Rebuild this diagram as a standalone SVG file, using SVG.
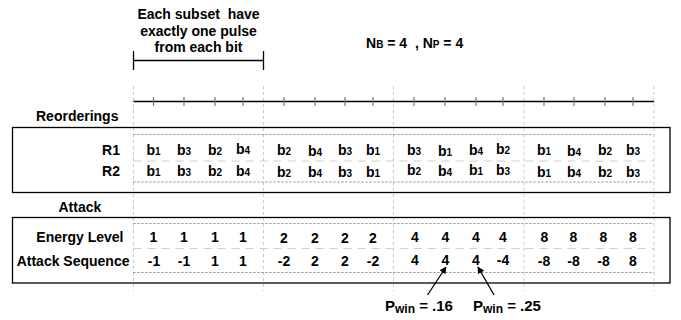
<svg xmlns="http://www.w3.org/2000/svg" width="681" height="320" viewBox="0 0 681 320">
<style>
text{font-family:"Liberation Sans",Arial,Helvetica,sans-serif;font-weight:bold;fill:#000;font-size:14px}
.m{text-anchor:middle}
.e{text-anchor:end}
.sub{font-size:10px}
.grid{stroke:#c8c8c8;stroke-width:1;stroke-dasharray:3 3;fill:none}
.dot{stroke:#888;stroke-width:1;stroke-dasharray:2 2;fill:none}
.dash{stroke:#cfcfcf;stroke-width:1;stroke-dasharray:8 6;fill:none}
.box{fill:none;stroke:#000;stroke-width:1.3}
.tick{stroke:#777;stroke-width:1.2}
.ln{stroke:#000;stroke-width:1.3;fill:none}
.pw{font-size:15px}
</style>
<defs>
<marker id="ah" viewBox="0 0 10 10" refX="9" refY="5" markerWidth="7" markerHeight="7" markerUnits="userSpaceOnUse" orient="auto">
<path d="M0,0 L10,5 L0,10 z" fill="#000"/>
</marker>
</defs>
<rect width="681" height="320" fill="#fff"/>

<g id="gridlines">
<line class="grid" x1="133.5" y1="86" x2="133.5" y2="291"/>
<line class="grid" x1="263.5" y1="86" x2="263.5" y2="291"/>
<line class="grid" x1="393.5" y1="86" x2="393.5" y2="291"/>
<line class="grid" x1="524" y1="86" x2="524" y2="291"/>
<line class="grid" x1="654" y1="86" x2="654" y2="291"/>
</g>

<g id="subset-note">
<text class="m" x="198.5" y="19" xml:space="preserve">Each subset  have</text>
<text class="m" x="198.5" y="35.5">exactly one pulse</text>
<text class="m" x="198.5" y="52">from each bit</text>
<line class="ln" x1="133.5" y1="51" x2="133.5" y2="70"/>
<line class="ln" x1="263.5" y1="51" x2="263.5" y2="70"/>
<line class="ln" x1="133.5" y1="60.5" x2="263.5" y2="60.5"/>
</g>

<g id="params">
<text x="366" y="48" xml:space="preserve">N<tspan class="sub">B</tspan> = 4  , N<tspan class="sub">P</tspan> = 4</text>
</g>

<g id="timeline">
<line class="ln" x1="133.5" y1="101.5" x2="654" y2="101.5"/>
<g class="tick">
<line x1="153.5" y1="97" x2="153.5" y2="106"/>
<line x1="184" y1="97" x2="184" y2="106"/>
<line x1="215" y1="97" x2="215" y2="106"/>
<line x1="243" y1="97" x2="243" y2="106"/>
<line x1="284" y1="97" x2="284" y2="106"/>
<line x1="315" y1="97" x2="315" y2="106"/>
<line x1="345" y1="97" x2="345" y2="106"/>
<line x1="373" y1="97" x2="373" y2="106"/>
<line x1="414" y1="97" x2="414" y2="106"/>
<line x1="445" y1="97" x2="445" y2="106"/>
<line x1="476" y1="97" x2="476" y2="106"/>
<line x1="503" y1="97" x2="503" y2="106"/>
<line x1="544" y1="97" x2="544" y2="106"/>
<line x1="574" y1="97" x2="574" y2="106"/>
<line x1="605" y1="97" x2="605" y2="106"/>
<line x1="633" y1="97" x2="633" y2="106"/>
</g>
</g>

<g id="reorderings">
<text x="36" y="120.5">Reorderings</text>
<rect class="box" x="12.5" y="127.5" width="657.5" height="65"/>
<line class="dot" x1="133.5" y1="134.5" x2="654" y2="134.5"/>
<line class="dash" x1="133.5" y1="161" x2="654" y2="161"/>
<line class="dot" x1="133.5" y1="182" x2="654" y2="182"/>
<text class="e" x="120" y="154.5">R1</text>
<text class="e" x="120" y="175.5">R2</text>
<g id="r1">
<text class="m" x="153.5" y="155">b<tspan class="sub">1</tspan></text>
<text class="m" x="184" y="155">b<tspan class="sub">3</tspan></text>
<text class="m" x="215" y="155">b<tspan class="sub">2</tspan></text>
<text class="m" x="243" y="153.5">b<tspan class="sub">4</tspan></text>
<text class="m" x="284" y="155">b<tspan class="sub">2</tspan></text>
<text class="m" x="315" y="156">b<tspan class="sub">4</tspan></text>
<text class="m" x="345" y="155">b<tspan class="sub">3</tspan></text>
<text class="m" x="373" y="155">b<tspan class="sub">1</tspan></text>
<text class="m" x="414" y="155">b<tspan class="sub">3</tspan></text>
<text class="m" x="445" y="156">b<tspan class="sub">1</tspan></text>
<text class="m" x="476" y="155">b<tspan class="sub">4</tspan></text>
<text class="m" x="503" y="154">b<tspan class="sub">2</tspan></text>
<text class="m" x="544" y="154.5">b<tspan class="sub">1</tspan></text>
<text class="m" x="574" y="155.5">b<tspan class="sub">4</tspan></text>
<text class="m" x="605" y="154.5">b<tspan class="sub">2</tspan></text>
<text class="m" x="633" y="154.5">b<tspan class="sub">3</tspan></text>
</g>
<g id="r2">
<text class="m" x="153.5" y="175.5">b<tspan class="sub">1</tspan></text>
<text class="m" x="184" y="176">b<tspan class="sub">3</tspan></text>
<text class="m" x="215" y="176">b<tspan class="sub">2</tspan></text>
<text class="m" x="243" y="175.5">b<tspan class="sub">4</tspan></text>
<text class="m" x="284" y="176.5">b<tspan class="sub">2</tspan></text>
<text class="m" x="315" y="177">b<tspan class="sub">4</tspan></text>
<text class="m" x="345" y="176.5">b<tspan class="sub">3</tspan></text>
<text class="m" x="373" y="176.5">b<tspan class="sub">1</tspan></text>
<text class="m" x="414" y="175">b<tspan class="sub">2</tspan></text>
<text class="m" x="445" y="175.5">b<tspan class="sub">4</tspan></text>
<text class="m" x="476" y="175">b<tspan class="sub">1</tspan></text>
<text class="m" x="503" y="175">b<tspan class="sub">3</tspan></text>
<text class="m" x="544" y="176.5">b<tspan class="sub">1</tspan></text>
<text class="m" x="574" y="177">b<tspan class="sub">4</tspan></text>
<text class="m" x="605" y="176.5">b<tspan class="sub">2</tspan></text>
<text class="m" x="633" y="176.5">b<tspan class="sub">3</tspan></text>
</g>
</g>

<g id="attack">
<text x="58.5" y="211.5">Attack</text>
<rect class="box" x="12.5" y="217.5" width="657.5" height="65.5"/>
<line class="dot" x1="133.5" y1="223.5" x2="654" y2="223.5"/>
<line class="dash" x1="133.5" y1="248.5" x2="654" y2="248.5"/>
<line class="dot" x1="133.5" y1="272.5" x2="654" y2="272.5"/>
<text class="e" x="123.5" y="242">Energy Level</text>
<text class="e" x="129.5" y="265.5">Attack Sequence</text>
<g id="energy">
<text class="m" x="153.5" y="242">1</text>
<text class="m" x="184" y="242">1</text>
<text class="m" x="215" y="242">1</text>
<text class="m" x="243" y="242">1</text>
<text class="m" x="284" y="242.5">2</text>
<text class="m" x="315" y="242.5">2</text>
<text class="m" x="345" y="242.5">2</text>
<text class="m" x="373" y="242.5">2</text>
<text class="m" x="415" y="241.5">4</text>
<text class="m" x="445.5" y="241.5">4</text>
<text class="m" x="476" y="241.5">4</text>
<text class="m" x="503" y="241.5">4</text>
<text class="m" x="544.5" y="242">8</text>
<text class="m" x="573.5" y="242">8</text>
<text class="m" x="603.5" y="242">8</text>
<text class="m" x="633" y="242">8</text>
</g>
<g id="sequence">
<text class="m" x="154" y="265.5">-1</text>
<text class="m" x="184" y="265.5">-1</text>
<text class="m" x="215" y="265.5">1</text>
<text class="m" x="243" y="265.5">1</text>
<text class="m" x="284" y="266">-2</text>
<text class="m" x="315" y="266">2</text>
<text class="m" x="345" y="266">2</text>
<text class="m" x="373" y="266">-2</text>
<text class="m" x="415" y="265">4</text>
<text class="m" x="445.5" y="265">4</text>
<text class="m" x="476" y="265">4</text>
<text class="m" x="503" y="265">-4</text>
<text class="m" x="544" y="265.5">-8</text>
<text class="m" x="573.5" y="265.5">-8</text>
<text class="m" x="603.5" y="265.5">-8</text>
<text class="m" x="633" y="265.5">8</text>
</g>
</g>

<g id="connectors">
<line class="ln" x1="427.5" y1="295" x2="446" y2="267" marker-end="url(#ah)"/>
<line class="ln" x1="494" y1="295" x2="478" y2="267" marker-end="url(#ah)"/>
</g>

<g id="pwin-16">
<text class="pw" x="385" y="311">P<tspan font-size="12" dy="2">win</tspan><tspan dy="-2"> = .16</tspan></text>
</g>
<g id="pwin-25">
<text class="pw" x="473" y="311">P<tspan font-size="12" dy="2">win</tspan><tspan dy="-2"> = .25</tspan></text>
</g>
</svg>
